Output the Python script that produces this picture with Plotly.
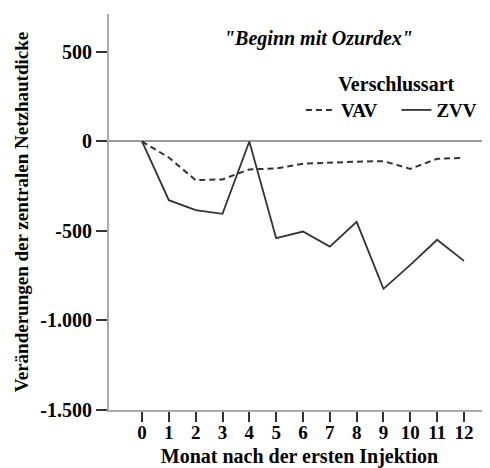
import plotly.graph_objects as go

# Monate nach der ersten Injektion
months = [0, 1, 2, 3, 4, 5, 6, 7, 8, 9, 10, 11, 12]

# Veränderungen der zentralen Netzhautdicke je Verschlussart
vav = [0, -90, -216, -212, -156, -151, -124, -117, -113, -110, -153, -97, -91]
zvv = [0, -328, -384, -404, 0, -540, -503, -587, -449, -823, -689, -549, -667]

y_tickvals = [500, 0, -500, -1000, -1500]
y_ticktext = ["500", "0", "-500", "-1.000", "-1.500"]

serif = "Liberation Serif, Times New Roman, serif"
ink = "#333333"
fs = 19
pad = "\u00a0" * 3  # a bit more room between the two legend entries

fig = go.Figure()

fig.add_trace(go.Scatter(
    x=months, y=vav, mode="lines", name="<b>VAV</b>" + pad,
    line=dict(color=ink, width=2, dash="6px,4px"),
))
fig.add_trace(go.Scatter(
    x=months, y=zvv, mode="lines", name="<b>ZVV</b>" + "\u00a0" * 2,
    line=dict(color=ink, width=1.8),
))

# the page body adds an 8px offset, so the figure is 8px smaller each way
fig.update_layout(
    width=482, height=460,
    margin=dict(l=101, r=0, t=6, b=58, autoexpand=False),
    paper_bgcolor="white", plot_bgcolor="white",
    font=dict(family=serif, size=fs, color="black"),
    showlegend=True,
    legend=dict(
        orientation="h",
        x=1.005, y=0.871, xanchor="right", yanchor="top",
        title=dict(text="<b>Verschlussart</b>", side="top center",
                   font=dict(family=serif, size=20)),
        font=dict(family=serif, size=fs),
        bgcolor="rgba(0,0,0,0)",
        tracegroupgap=0,
    ),
    annotations=[dict(
        text='<b><i>"Beginn mit Ozurdex"</i></b>',
        x=0.549, y=0.939, xref="paper", yref="paper",
        xanchor="center", yanchor="middle",
        showarrow=False, font=dict(family=serif, size=20),
    )],
)

fig.update_xaxes(
    range=[-1.23, 12.97],
    tickmode="array", tickvals=months,
    ticktext=[f"<b>{m}</b>" for m in months],
    ticks="outside", ticklen=10, tickwidth=1.5, tickcolor=ink,
    ticklabelstandoff=-6,
    showline=True, linecolor="#aaaaaa", linewidth=2,
    showgrid=False, zeroline=False,
    tickfont=dict(family=serif, size=fs),
    title=dict(text="<b>Monat nach der ersten Injektion</b>",
               font=dict(family=serif, size=20), standoff=13),
)
fig.update_yaxes(
    range=[-1500, 712],
    tickmode="array", tickvals=y_tickvals,
    ticktext=[f"<b>{t}</b>" for t in y_ticktext],
    ticks="outside", ticklen=11, tickwidth=1.5, tickcolor=ink,
    showline=True, linecolor="#aaaaaa", linewidth=2,
    showgrid=False,
    zeroline=True, zerolinecolor="#999999", zerolinewidth=2,
    tickfont=dict(family=serif, size=20),
    title=dict(text="<b>Veränderungen der zentralen Netzhautdicke</b>",
               font=dict(family=serif, size=fs), standoff=7),
)

fig.write_html("out.html")
